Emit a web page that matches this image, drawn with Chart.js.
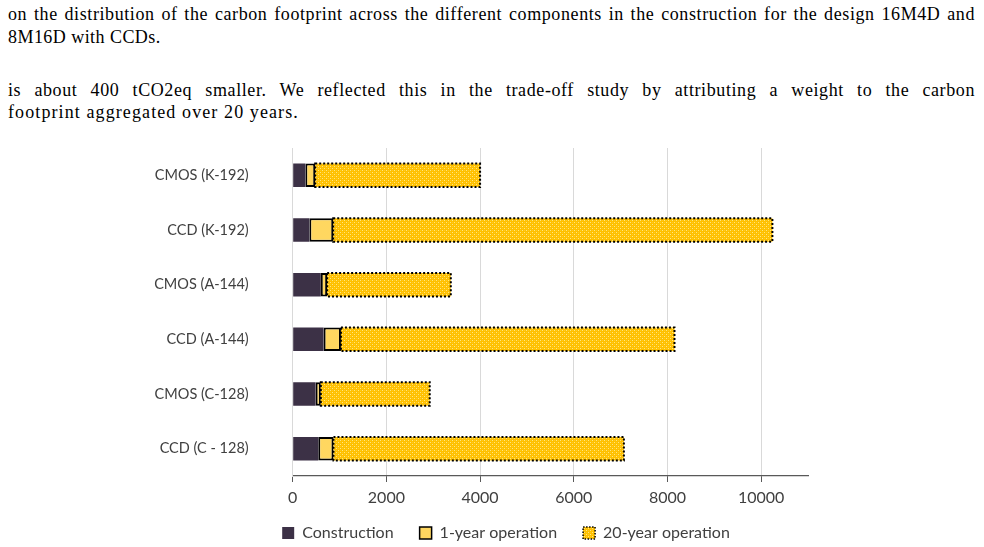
<!DOCTYPE html>
<html><head><meta charset="utf-8">
<script src="https://cdn.jsdelivr.net/npm/chart.js@4"></script>
<style>
html,body{margin:0;padding:0;width:984px;height:547px;overflow:hidden;background:#fff;}
.t{position:absolute;left:8px;font-family:"Liberation Serif",serif;font-size:18px;color:#000;white-space:nowrap;line-height:20px;}
.j{width:967px;text-align:justify;text-align-last:justify;letter-spacing:0.6px;}
#wrap{position:absolute;left:0;top:0;width:984px;height:561px;}
</style></head><body>
<div class="t j" style="top:4px">on the distribution of the carbon footprint across the different components in the construction for the design 16M4D and</div>
<div class="t" style="top:27px;letter-spacing:0.45px">8M16D with CCDs.</div>
<div class="t j" style="top:80px">is about 400 tCO2eq smaller. We reflected this in the trade-off study by attributing a weight to the carbon</div>
<div class="t" style="top:102px;letter-spacing:1.1px">footprint aggregated over 20 years.</div>
<div id="wrap"><canvas id="c"></canvas></div>
<script>
const categories = ['CMOS (K-192)', 'CCD (K-192)', 'CMOS (A-144)', 'CCD (A-144)', 'CMOS (C-128)', 'CCD (C - 128)'];
const seriesNames = ['Construction', '1-year operation', '20-year operation'];
const construction = [270, 355, 600, 660, 490, 545];
const oneYear = [210, 510, 135, 370, 110, 325];
const twentyYear = [3520, 9375, 2640, 7120, 2325, 6200];
const xTickValues = [0, 2000, 4000, 6000, 8000, 10000];
const xMin = 0, xMax = 11000;

Chart.defaults.font.family = 'Lato';
Chart.defaults.color = '#404040';
Chart.defaults.animation = false;

const canvas = document.getElementById('c');
const ctx = canvas.getContext('2d');

function makePattern() {
  const t = document.createElement('canvas');
  t.width = 4; t.height = 4;
  const g = t.getContext('2d');
  g.fillStyle = '#FFC000'; g.fillRect(0, 0, 4, 4);
  g.fillStyle = '#FFE680';
  g.fillRect(0, 0, 1, 1); g.fillRect(2, 2, 1, 1);
  g.fillStyle = '#FFCB20';
  g.fillRect(0, 2, 1, 1); g.fillRect(2, 0, 1, 1);
  return ctx.createPattern(t, 'repeat');
}
const goldPattern = makePattern();

const dottedBorder = {
  id: 'dottedBorder',
  afterDatasetsDraw(chart) {
    const meta = chart.getDatasetMeta(2);
    const c = chart.ctx;
    c.save();
    c.strokeStyle = '#000';
    c.lineWidth = 2;
    c.setLineDash([2, 2]);
    meta.data.forEach(el => {
      const p = el.getProps(['x', 'y', 'base', 'height'], true);
      c.strokeRect(p.base, p.y - p.height / 2, p.x - p.base, p.height);
    });
    c.restore();
  }
};

// centre the legend under the whole figure (label column + plot) and tuck it under the axis
const legendShift = {
  id: 'legendShift',
  afterLayout(chart) {
    const lg = chart.legend;
    if (!lg) return;
    const h = lg.bottom - lg.top;
    lg.left = 204;
    lg.right = chart.chartArea.right;
    lg.width = lg.right - lg.left;
    lg.top = chart.chartArea.bottom + 23;
    lg.bottom = lg.top + h;
  }
};

new Chart(ctx, {
  type: 'bar',
  data: {
    labels: categories,
    datasets: [
      { label: seriesNames[0], data: construction, backgroundColor: '#3C3146', borderWidth: 0 },
      { label: seriesNames[1], data: oneYear, backgroundColor: '#FFD760', borderColor: '#000', borderWidth: 2, borderSkipped: false },
      { label: seriesNames[2], data: twentyYear, backgroundColor: goldPattern, borderWidth: 0 }
    ]
  },
  options: {
    indexAxis: 'y',
    responsive: true,
    maintainAspectRatio: false,
    layout: { padding: { left: 0, right: 176, top: 148, bottom: 0 } },
    datasets: { bar: { barPercentage: 0.43, categoryPercentage: 1 } },
    scales: {
      x: {
        stacked: true, min: xMin, max: xMax,
        afterBuildTicks(s) { s.ticks = xTickValues.map(v => ({ value: v })); },
        ticks: { padding: 6, font: { size: 16 }, color: '#404040', callback: v => String(v) },
        grid: { color: '#d9d9d9', tickColor: '#595959', tickLength: 6 },
        border: { color: '#595959', width: 1.2 },
        afterFit(s) { s.height = 33; }
      },
      y: {
        stacked: true,
        grid: { display: false, drawTicks: false },
        border: { color: '#d9d9d9' },
        ticks: { padding: 44, font: { size: 14.5 }, color: '#404040' },
        afterFit(s) { s.width = 292.7; }
      }
    },
    plugins: {
      tooltip: { enabled: false },
      legend: {
        position: 'bottom',
        labels: {
          boxWidth: 12, boxHeight: 12, padding: 26, font: { size: 16 }, color: '#404040',
          generateLabels(chart) {
            const items = Chart.defaults.plugins.legend.labels.generateLabels(chart);
            items.forEach((it, i) => {
              if (i === 0) { it.lineWidth = 0; }
              if (i === 1) { it.lineWidth = 1.5; it.strokeStyle = '#000'; }
              if (i === 2) { it.lineWidth = 1.5; it.strokeStyle = '#000'; it.lineDash = [1.5, 1.5]; }
            });
            return items;
          }
        }
      }
    }
  },
  plugins: [dottedBorder, legendShift]
});
</script>
</body></html>
